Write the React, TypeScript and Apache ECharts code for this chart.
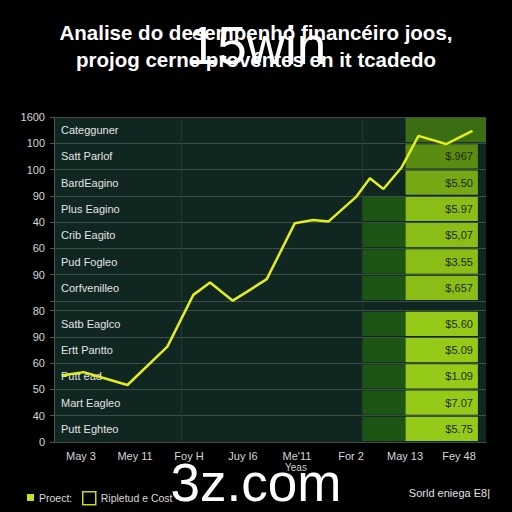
import React, { useEffect, useRef } from "react";
import * as echarts from "echarts";

// ---- data ----
const categories = ["May 3", "Mey 11", "Foy H", "Juy I6", "Me'11", "For 2", "May 13", "Fey 48"];
const yTickPositions = [0, 1, 2, 3, 4, 5, 5.37, 6.37, 7.37, 8.37, 9.37, 10.37, 11.37, 12.37];
const yTickLabels = ["0", "40", "50", "60", "90", "80", "", "90", "60", "40", "90", "100", "100", "1600"];
// rows listed top to bottom
const rowLabels = [
  "Categguner", "Satt Parlof", "BardEagino", "Plus Eagino", "Crib Eagito", "Pud Fogleo",
  "Corfvenilleo", "Satb Eaglco", "Ertt Pantto", "Putt ead", "Mart Eagleo", "Putt Eghteo",
];
const rowBottoms = [11.37, 10.37, 9.37, 8.37, 7.37, 6.37, 5.37, 4, 3, 2, 1, 0];
const cellValues = ["", "$.967", "$5.50", "$5.97", "$5,07", "$3.55", "$,657", "$5.60", "$5.09", "$1.09", "$7.07", "$5.75"];
const trendX = [0.14, 0.55, 0.98, 1.36, 2.1, 2.58, 2.89, 3.31, 3.63, 3.94, 4.46, 4.8, 5.08, 5.59, 5.85, 6.1, 6.44, 6.75, 7.26, 7.75];
const trendY = [2.53, 2.66, 2.4, 2.17, 3.63, 5.6, 6.07, 5.38, 5.79, 6.2, 8.33, 8.45, 8.39, 9.32, 10.04, 9.63, 10.46, 11.65, 11.34, 11.84];
const verticalLines = [2.36, 5.7];

// ---- styles ----
const FONT = "Liberation Sans, Arial, sans-serif";
const MID_X = [5.7, 6.51];
const RIGHT_X = [6.51, 7.85];
const rightColor = (t: number) =>
  t === 0 ? "#3b6e12" : t === 1 ? "#5a8c12" : t === 2 ? "#76a714" : t < 7 ? "#8abd16" : "#96ca18";

export default function App() {
  const ref = useRef<HTMLDivElement>(null);
  useEffect(() => {
    if (!ref.current) return;
    const chart = echarts.init(ref.current, undefined, { renderer: "svg" });
    const rowIdx = rowLabels.map((_, i) => i);
    const option: any = {
      animation: false,
      backgroundColor: "#000000",
      textStyle: { fontFamily: FONT },
      title: {
        text: "Analise do desempenho financéiro joos,\nprojog cerne provéntes en it tcadedo",
        left: "center",
        top: 14,
        textStyle: { color: "#ffffff", fontSize: 20.5, fontWeight: "bold", lineHeight: 27, fontFamily: FONT },
      },
      grid: {
        left: 54, right: 26, top: 117, bottom: 70,
        show: true, backgroundColor: "#0f2621", borderWidth: 0,
      },
      legend: [
        {
          data: [{ name: "Proect:", icon: "rect" }],
          left: 22, top: 487, itemWidth: 7, itemHeight: 7, itemGap: 4,
          textStyle: { color: "#d8d8d8", fontSize: 10.5, fontFamily: FONT },
          selectedMode: false,
        },
        {
          data: [{ name: "Ripletud e Cost", icon: "rect", itemStyle: { color: "rgba(0,0,0,0)", borderColor: "#c5dc1e", borderWidth: 1.5 } }],
          left: 77, top: 486, itemWidth: 13, itemHeight: 13, itemGap: 4,
          textStyle: { color: "#d8d8d8", fontSize: 10.5, fontFamily: FONT },
          selectedMode: false,
        },
      ],
      xAxis: [
        {
          type: "category", data: categories, boundaryGap: true,
          axisLine: { show: true, lineStyle: { color: "#4a5752" } },
          axisTick: { show: false },
          axisLabel: { color: "#d6d6d6", fontSize: 11, margin: 8, fontFamily: FONT },
          splitLine: { show: false },
        },
        { type: "value", min: 0, max: 8, show: false },
      ],
      yAxis: {
        type: "value", min: 0, max: 12.37,
        axisLine: { show: true, lineStyle: { color: "#4a5752" } },
        axisTick: { show: true, length: 4, customValues: yTickPositions, lineStyle: { color: "#4a5752" } },
        axisLabel: {
          customValues: yTickPositions,
          color: "#d6d6d6", fontSize: 11, margin: 9, fontFamily: FONT,
          formatter: (v: number) => {
            let best = 0;
            yTickPositions.forEach((p, i) => { if (Math.abs(p - v) < Math.abs(yTickPositions[best] - v)) best = i; });
            return yTickLabels[best];
          },
        },
        splitLine: { show: false },
      },
      series: [
        {
          type: "line", name: "grid", xAxisIndex: 1, yAxisIndex: 0, data: [], z: 1, silent: true,
          markLine: {
            silent: true, symbol: "none", label: { show: false },
            lineStyle: { color: "#3f4d49", width: 1, type: "solid" },
            data: [
              ...yTickPositions.map((v) => ({ yAxis: v })),
              ...verticalLines.map((v) => ({ xAxis: v, lineStyle: { color: "#243833", width: 1, type: "solid" } })),
            ],
          },
        },
        {
          type: "custom", name: "Ripletud e Cost", xAxisIndex: 1, yAxisIndex: 0, z: 2,
          itemStyle: { color: "#c5dc1e" },
          data: rowIdx,
          renderItem: (params: any, api: any) => {
            const t = api.value(0);
            const yb = rowBottoms[t];
            const children: any[] = [];
            const rect = (x0: number, x1: number, color: string) => {
              const p0 = api.coord([x0, yb + 1]);
              const p1 = api.coord([x1, yb]);
              return { type: "rect", shape: { x: p0[0], y: p0[1] + 1, width: p1[0] - p0[0], height: p1[1] - p0[1] - 2 }, style: { fill: color } };
            };
            if (t >= 3) children.push(rect(MID_X[0], MID_X[1], "#1d5514"));
            children.push(rect(RIGHT_X[0], t === 0 ? 8 : RIGHT_X[1], rightColor(t)));
            const mid = api.coord([RIGHT_X[1], yb + 0.5]);
            children.push({
              type: "text",
              style: { text: cellValues[t], x: mid[0] - 5, y: mid[1], align: "right", verticalAlign: "middle", fill: "#1c2a08", fontSize: 11, fontFamily: FONT },
            });
            const left = api.coord([0, yb + 0.5]);
            children.push({
              type: "text",
              style: { text: rowLabels[t], x: left[0] + 7, y: left[1], align: "left", verticalAlign: "middle", fill: "#e4e4e4", fontSize: 11, fontFamily: FONT },
            });
            return { type: "group", children };
          },
        },
        {
          type: "line", name: "Proect:", xAxisIndex: 1, yAxisIndex: 0, z: 5,
          data: trendX.map((x, i) => [x, trendY[i]]),
          symbol: "none",
          itemStyle: { color: "#c8df1c" },
          lineStyle: { color: "#e2ee1e", width: 2.5 },
        },
      ],
      graphic: [
        { type: "text", left: 285, top: 462, z: 10, style: { text: "Yeas", fill: "#d0d0d0", fontSize: 10, fontFamily: FONT } },
        { type: "text", right: 22, top: 487, z: 10, style: { text: "Sorld eniega E8|", fill: "#e0e0e0", fontSize: 11, fontFamily: FONT } },
        { type: "text", x: 257, y: 45, z: 20, style: { text: "15win", fill: "#ffffff", fontSize: 53, align: "center", verticalAlign: "middle", fontFamily: FONT } },
        { type: "text", x: 256, y: 482, z: 20, style: { text: "3z.com", fill: "#ffffff", fontSize: 53, align: "center", verticalAlign: "middle", fontFamily: FONT } },
      ],
    };
    chart.setOption(option);
    return () => chart.dispose();
  }, []);
  return (
    <div style={{ position: "fixed", left: 0, top: 0, width: 512, height: 512, background: "#000" }}>
      <div ref={ref} style={{ width: 512, height: 512 }} />
    </div>
  );
}
